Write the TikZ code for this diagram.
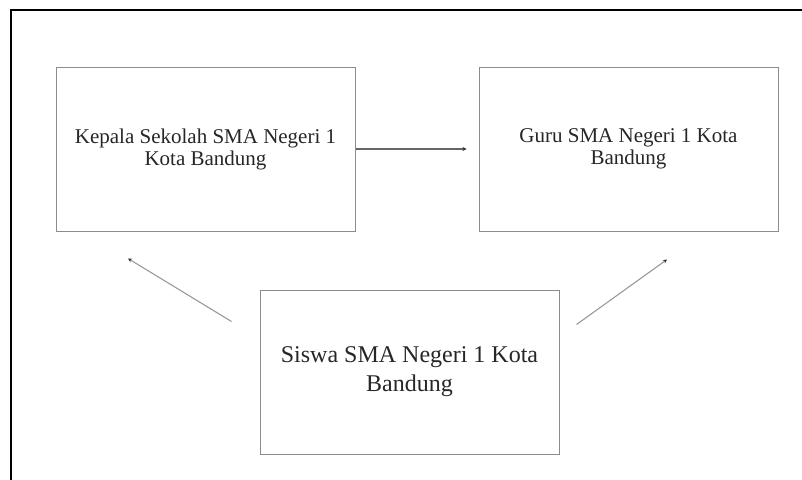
\documentclass[tikz,border=0pt]{standalone}
\usepackage{fontspec}
\setmainfont{Liberation Serif}
\usetikzlibrary{arrows.meta}
\tikzset{
    box/.style={draw=black!45, line width=1pt, inner sep=0pt, minimum width=299pt, minimum height=164pt, align=center, text=black!85},
    link/.style={-{Stealth[length=4pt, width=4pt, black!80]}, line width=1.1pt}
}
\begin{document}
\begin{tikzpicture}[x=1pt, y=-1pt]
    \useasboundingbox (0,0) rectangle (802,479);
    % outer frame
    \draw[line width=2pt] (11,490) -- (11,9.5) -- (812,9.5);

    % boxes
    \node[box, font=\fontsize{21}{22}\selectfont] (kepala) at (205.5,149) {Kepala Sekolah SMA Negeri 1\\Kota Bandung};
    \node[box, font=\fontsize{21}{22}\selectfont] (guru) at (628.5,149) {Guru SMA Negeri 1 Kota\\Bandung};
    \node[box, font=\fontsize{24}{29}\selectfont] (siswa) at (409.5,372) {Siswa SMA Negeri 1 Kota\\Bandung};

    % ends of the slanted arrows
    \coordinate (s1) at ([xshift=-28pt, yshift=-32pt]siswa.north west);
    \coordinate (k1) at ([xshift=-77.5pt, yshift=-27pt]kepala.south);
    \coordinate (s2) at ([xshift=17pt, yshift=-35pt]siswa.north east);
    \coordinate (g1) at ([xshift=38.5pt, yshift=-28pt]guru.south);

    \draw[link, black!60, shorten >=12pt] (kepala) -- (guru);
    \draw[link, black!40] (s1) -- (k1);
    \draw[link, black!40] (s2) -- (g1);
\end{tikzpicture}
\end{document}
